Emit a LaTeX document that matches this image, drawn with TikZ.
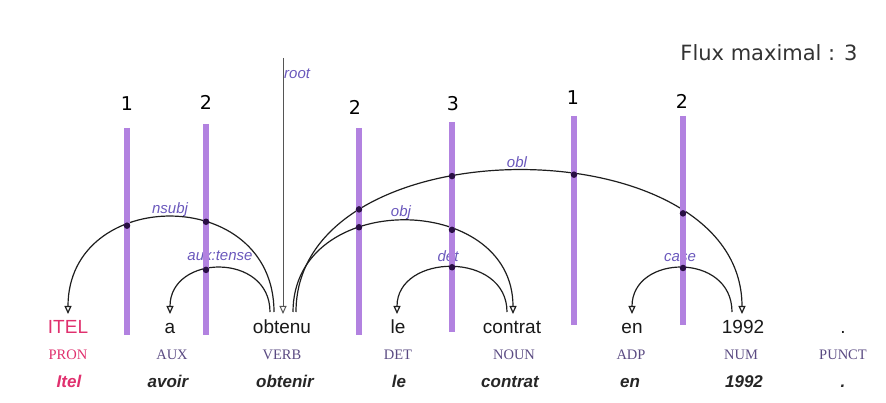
\documentclass[tikz,border=0pt]{standalone}
\usepackage{fontspec}
\setmainfont{Liberation Sans}
\newfontfamily\posfam{Liberation Serif}
\newfontfamily\numfam{DejaVu Sans}
\usetikzlibrary{arrows.meta,intersections}
\definecolor{barcol}{HTML}{B282E0}
\definecolor{labcol}{HTML}{6A58BC}
\definecolor{pinkcol}{HTML}{E0306E}
\definecolor{poscol}{HTML}{5A4A82}
\definecolor{arccol}{HTML}{1E1E1E}
\definecolor{dotcol}{HTML}{2A0F45}
\definecolor{rootcol}{HTML}{555555}
\newcommand{\crossdot}[2]{\path[name intersections={of=#1 and #2,name=ix}] (ix-1) node[dotmark] {};}
\begin{document}
\begin{tikzpicture}[x=1pt,y=1pt,
  word/.style={anchor=base,inner sep=0pt,font=\fontsize{19}{22}\selectfont,text=black!90},
  postag/.style={anchor=base,inner sep=0pt,font=\posfam\fontsize{14.5}{17}\selectfont,text=poscol},
  lemma/.style={anchor=base,inner sep=0pt,font=\bfseries\itshape\fontsize{17}{20}\selectfont,text=black!85},
  deplab/.style={anchor=base,inner sep=0pt,font=\itshape\fontsize{15}{18}\selectfont,text=labcol},
  count/.style={inner sep=0pt,font=\numfam\fontsize{19}{22}\selectfont},
  flux/.style={inner sep=0pt,font=\numfam\fontsize{21}{24}\selectfont,text=black!80},
  bar/.style={line width=5.5pt,draw=barcol},
  dep/.style={draw=arccol,line width=1.2pt,-{Triangle[open,length=8pt,width=7pt,fill=white]}},
  rootline/.style={draw=rootcol,line width=1pt,-{Triangle[open,length=8pt,width=7pt,fill=white]}},
  dotmark/.style={circle,fill=dotcol,inner sep=0pt,minimum size=6.5pt}
]
\useasboundingbox (0,0) rectangle (886,-403);

% words
\node[word,text=pinkcol] (w1) at (68,-333) {ITEL};
\node[word] (w2) at (170,-333) {a};
\node[word] (w3) at (282,-333) {obtenu};
\node[word] (w4) at (398,-333) {le};
\node[word] (w5) at (512,-333) {contrat};
\node[word] (w6) at (632,-333) {en};
\node[word] (w7) at (743,-333) {1992};
\node[word] (w8) at (843,-333) {.};

% POS tags
\node[postag,text=pinkcol] (p1) at (68,-359) {PRON};
\node[postag] (p2) at (172,-359) {AUX};
\node[postag] (p3) at (282,-359) {VERB};
\node[postag] (p4) at (398,-359) {DET};
\node[postag] (p5) at (514,-359) {NOUN};
\node[postag] (p6) at (631,-359) {ADP};
\node[postag] (p7) at (741,-359) {NUM};
\node[postag] (p8) at (843,-359) {PUNCT};

% lemmas
\node[lemma,text=pinkcol] (l1) at (69,-387) {Itel};
\node[lemma] (l2) at (168,-387) {avoir};
\node[lemma] (l3) at (285,-387) {obtenir};
\node[lemma] (l4) at (399,-387) {le};
\node[lemma] (l5) at (510,-387) {contrat};
\node[lemma] (l6) at (630,-387) {en};
\node[lemma] (l7) at (744,-387) {1992};
\node[lemma] (l8) at (843,-387) {.};

% attachment points
\coordinate (itelT) at (68,-314);
\coordinate (aT) at (170,-314);
\coordinate (obL1) at (274,-312);
\coordinate (obL2) at (270,-312);
\coordinate (obR1) at (293,-312);
\coordinate (obR2) at (296,-312);
\coordinate (rootTop) at (283,-58);
\coordinate (rootEnd) at (283,-314);
\coordinate (leT) at (397,-314);
\coordinate (conT) at (513,-314);
\coordinate (conL) at (507,-312);
\coordinate (enT) at (632,-314);
\coordinate (nT) at (742,-314);
\coordinate (nL) at (732,-312);

% dependency labels
\node[deplab] (lnsubj) at (170,-214) {nsubj};
\node[deplab] (laux) at (220,-261) {aux:tense};
\node[deplab] (lobj) at (401,-217) {obj};
\node[deplab] (lobl) at (517,-168) {obl};
\node[deplab] (ldet) at (448,-262) {det};
\node[deplab] (lcase) at (680,-262) {case};
\node[deplab,anchor=base west] (lroot) at (284,-79) {root};

% root
\draw[rootline] (rootTop) -- (rootEnd);

% arcs
\draw[dep,name path global=nsubj] (obL1) .. controls +(0,128) and +(0,128) .. (itelT);
\draw[dep,name path global=aux] (obL2) .. controls +(0,60) and +(0,60) .. (aT);
\draw[dep,name path global=obj] (obR1) .. controls +(0,123) and +(0,123) .. (conT);
\draw[dep,name path global=obl] (obR2) .. controls +(0,190) and +(0,190) .. (nT);
\draw[dep,name path global=det] (conL) .. controls +(0,61) and +(0,61) .. (leT);
\draw[dep,name path global=case] (nL) .. controls +(0,60) and +(0,60) .. (enT);

% flux bars
\draw[bar,name path global=b1] (127,-128) -- (127,-335);
\draw[bar,name path global=b2] (206,-124) -- (206,-335);
\draw[bar,name path global=b3] (359,-128) -- (359,-335);
\draw[bar,name path global=b4] (452,-122) -- (452,-332);
\draw[bar,name path global=b5] (574,-116) -- (574,-325);
\draw[bar,name path global=b6] (683,-116) -- (683,-325);

% counts
\node[count] (c1) at (127,-104) {1};
\node[count] (c2) at (206,-102) {2};
\node[count] (c3) at (355,-107) {2};
\node[count] (c4) at (453,-104) {3};
\node[count] (c5) at (573,-98) {1};
\node[count] (c6) at (682,-101) {2};

\node[flux] (fluxlab) at (769,-53) {Flux maximal : 3};

% crossing dots
\crossdot{nsubj}{b1}
\crossdot{nsubj}{b2}
\crossdot{aux}{b2}
\crossdot{obj}{b3}
\crossdot{obj}{b4}
\crossdot{obl}{b3}
\crossdot{obl}{b4}
\crossdot{obl}{b5}
\crossdot{obl}{b6}
\crossdot{det}{b4}
\crossdot{case}{b6}
\end{tikzpicture}
\end{document}
